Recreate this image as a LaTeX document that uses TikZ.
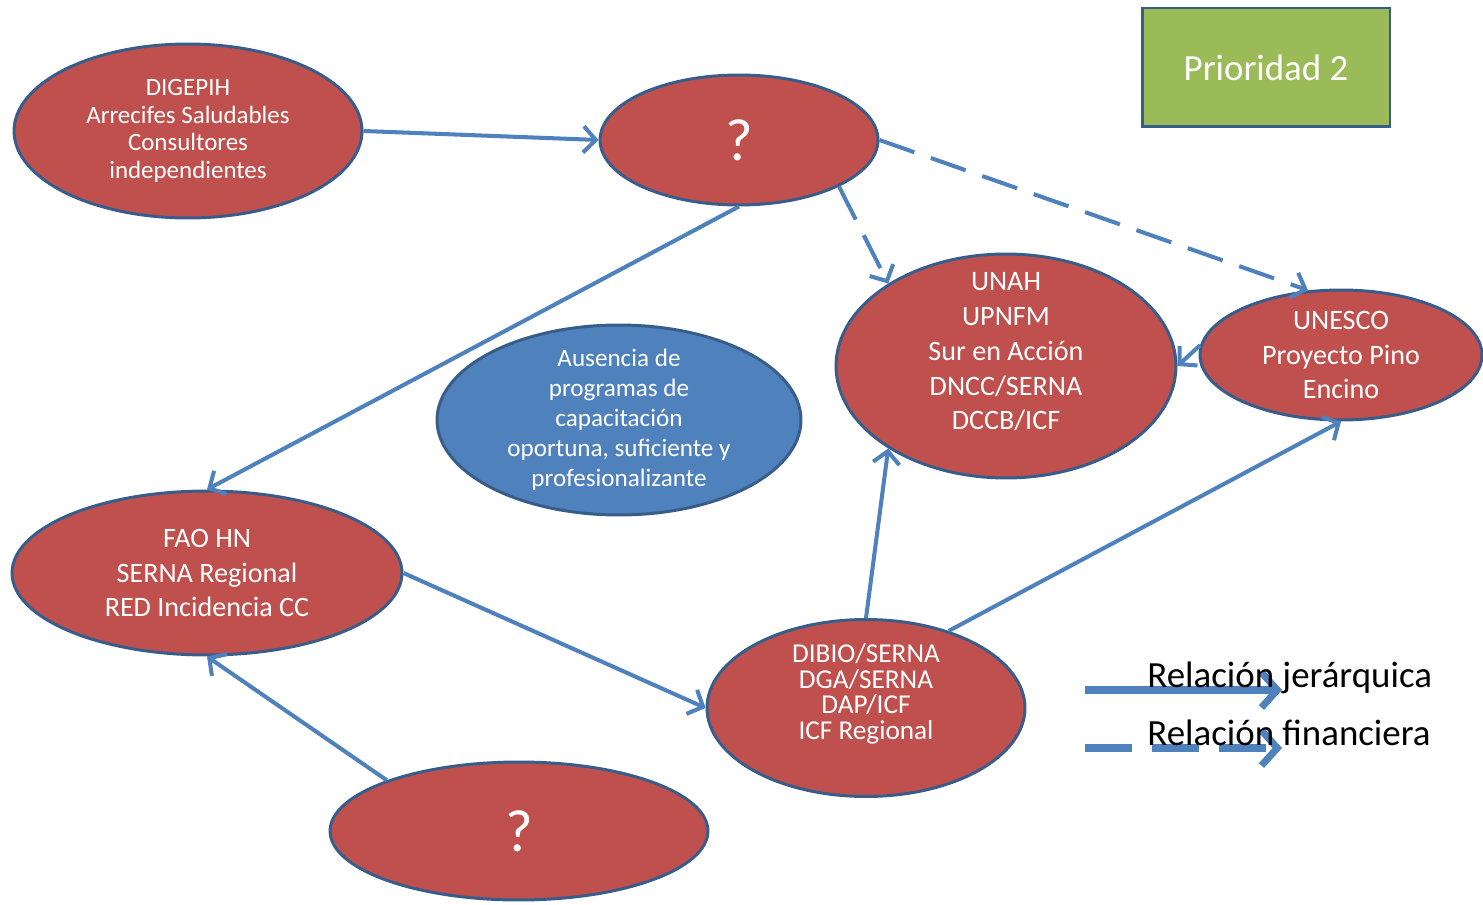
\documentclass[tikz,border=0pt]{standalone}
\usepackage{fontspec}
\setmainfont{Carlito}
\usetikzlibrary{shapes.geometric, arrows.meta}
\definecolor{rojo}{HTML}{C0504D}
\definecolor{azul}{HTML}{4F81BD}
\definecolor{borde}{HTML}{385D8A}
\definecolor{verde}{HTML}{9BBB59}
\begin{document}
\begin{tikzpicture}[x=0.02cm, y=-0.02cm,
  ell/.style = {draw=borde, line width=1.7pt, fill=rojo, ellipse, inner sep=0pt},
  txt/.style = {text=white, align=center, font=\fontsize{16}{19.8}\selectfont},
  rel/.style = {draw=azul, line width=2.3pt, -{Straight Barb[length=7pt, width=15pt]}},
  fin/.style = {rel, dash pattern=on 21pt off 10pt}]
\useasboundingbox (0,0) rectangle (1483,905);

\node[ell, minimum width=6.96cm, minimum height=3.48cm,
  label={[txt, font=\fontsize{14.2}{15.6}\selectfont]center:DIGEPIH\\Arrecifes Saludables\\Consultores\\independientes}] (dig) at (188,131) {};
\node[ell, minimum width=5.56cm, minimum height=2.6cm,
  label={[txt, font=\fontsize{34}{34}\selectfont]center:?}] (qa) at (739,140) {};
\node[ell, minimum width=6.8cm, minimum height=4.48cm,
  label={[txt, yshift=8pt]center:UNAH\\UPNFM\\Sur en Acción\\DNCC/SERNA\\DCCB/ICF}] (unah) at (1006,366) {};
\node[ell, minimum width=5.64cm, minimum height=2.6cm,
  label={[txt]center:UNESCO\\Proyecto Pino\\Encino}] (unesco) at (1341,355) {};
\node[ell, fill=azul, minimum width=7.28cm, minimum height=3.8cm,
  label={[txt, font=\fontsize{14.3}{17}\selectfont]center:Ausencia de\\programas de\\capacitación\\oportuna, suficiente y\\profesionalizante}] (aus) at (619,420) {};
\node[ell, minimum width=7.8cm, minimum height=3.28cm,
  label={[txt]center:FAO HN\\SERNA Regional\\RED Incidencia CC}] (fao) at (207,573) {};
\node[ell, minimum width=6.36cm, minimum height=3.54cm,
  label={[txt, yshift=8pt, font=\fontsize{15.5}{14.7}\selectfont]center:DIBIO/SERNA\\DGA/SERNA\\DAP/ICF\\ICF Regional}] (dibio) at (866,708) {};
\node[ell, minimum width=7.56cm, minimum height=2.76cm,
  label={[txt, font=\fontsize{34}{34}\selectfont]center:?}] (qb) at (519,831) {};

\node[draw=borde, line width=1.7pt, fill=verde, minimum width=4.96cm, minimum height=2.38cm,
  text=white, font=\fontsize{21}{21}\selectfont] (prio) at (1266,67.5) {Prioridad 2};

% relaciones
\draw[rel] (dig.east) -- (qa.west);
\draw[rel] (qa.south) -- (fao.north);
\draw[fin] (qa.-25) -- (unah.145);
\draw[fin] (qa.east) -- (unesco.117);
\draw[rel] (unesco.176) -- (unah.east);
\draw[rel] (dibio.north) -- (unah.215);
\draw[rel] (dibio.43) -- (unesco.south);
\draw[rel] (fao.east) -- (dibio.west);
\draw[rel] (qb.159) -- (fao.south);

% leyenda
\coordinate (l1a) at (1085,690);
\coordinate (l1b) at (1282,690);
\coordinate (l2a) at (1085,748);
\coordinate (l2b) at (1282,748);
\draw[rel, line width=4pt, -{Straight Barb[length=9pt, width=20pt]}] (l1a) -- (l1b);
\draw[rel, line width=4pt, dash pattern=on 27pt off 11pt, -{Straight Barb[length=9pt, width=20pt]}] (l2a) -- (l2b);
\node[anchor=base west, inner sep=0pt, font=\fontsize{21}{21}\selectfont] (lj) at (1147,687) {Relación jerárquica};
\node[anchor=base west, inner sep=0pt, font=\fontsize{21}{21}\selectfont] (lf) at (1147,745) {Relación financiera};
\end{tikzpicture}
\end{document}
